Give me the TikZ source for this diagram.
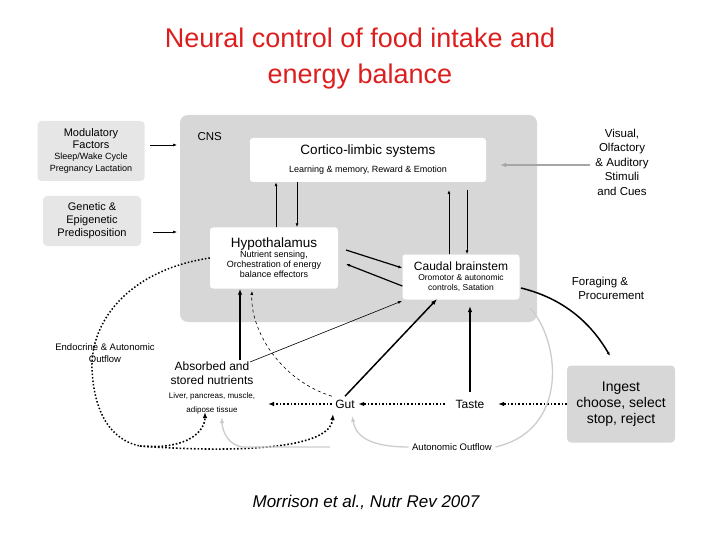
\documentclass[tikz,border=0pt]{standalone}
\usepackage{fontspec}
\setmainfont{Liberation Sans}
\usetikzlibrary{arrows.meta,positioning}
\definecolor{boxgray}{RGB}{230,230,230}
\definecolor{cnsgray}{RGB}{215,215,215}
\definecolor{titlered}{RGB}{220,30,30}
\newcommand{\fsz}[2]{\fontsize{#1}{#2}\selectfont}
\tikzset{
  panel/.style={fill=boxgray, rounded corners=4pt, align=center, inner sep=0pt},
  inbox/.style={fill=white, rounded corners=3pt, align=center, inner sep=0pt},
  thin arrow/.style={-{Latex[length=4pt]}, line width=0.6pt},
  thick arrow/.style={-{Latex[length=6pt]}, line width=1.5pt},
  dot arrow/.style={-{Latex[length=6pt]}, line width=1.6pt, dotted},
  gray arrow/.style={-{Latex[length=6pt]}, line width=1.3pt, gray!45},
}
\begin{document}
\begin{tikzpicture}[x=1pt,y=-1pt]
	\useasboundingbox (0,0) rectangle (720,540);
	
	% title
	\node[text=titlered, font=\fsz{27}{36}, align=center] (title) at (360,59) {Neural control of food intake and\\energy balance};
	
	% CNS background
	\fill[cnsgray, rounded corners=8pt] (180,115) rectangle (537,322);
	\node[anchor=west, font=\fsz{11.5}{12}] (cns) at (194,137) {CNS};
	
	% side factors
	\node[panel, minimum width=107pt, minimum height=60pt, font=\fsz{11}{11.5}] (mod) at (91,151) {Modulatory\\Factors\\{\fsz{9}{10}Sleep/Wake Cycle}\\{\fsz{9}{10}Pregnancy Lactation}};
	\node[panel, minimum width=98pt, minimum height=50pt, font=\fsz{11}{13}] (gen) at (92,221) {Genetic \&\\Epigenetic\\Predisposition};
	\coordinate (modend) at (177,145);
	\coordinate (genend) at (177,232);
	\draw[thin arrow] (150,145) -- (modend);
	\draw[thin arrow] (153,232) -- (genend);
	
	% boxes inside CNS
	\node[inbox, minimum width=236pt, minimum height=44pt, font=\fsz{13.5}{18}] (cort) at (368,160) {Cortico-limbic systems\\{\fsz{9}{10}Learning \& memory, Reward \& Emotion}};
	\node[inbox, minimum width=128pt, minimum height=61pt, font=\fsz{9}{10}] (hyp) at (274,258) {{\fsz{13.5}{16}Hypothalamus}\\Nutrient sensing,\\Orchestration of energy\\balance effectors};
	\node[inbox, minimum width=117pt, minimum height=45pt, font=\fsz{8.5}{10}] (caud) at (461,277) {{\fsz{12}{14}Caudal brainstem}\\Oromotor \& autonomic\\controls, Satation};
	
	% visual cues
	\node[align=center, font=\fsz{11.5}{14.5}] (vis) at (622,162) {Visual,\\Olfactory\\\& Auditory\\Stimuli\\and Cues};
	\draw[gray arrow, gray!70] (590,165) -- (500,165);
	
	% CNS arrows
	\draw[thin arrow, line width=1pt] (hyp.north -| 276,0) -- (cort.south -| 276,0);
	\draw[thin arrow, line width=1pt] (cort.south -| 297,0) -- (hyp.north -| 297,0);
	\draw[thin arrow, line width=1pt] (caud.north -| 449,0) -- (449,190);
	\draw[thin arrow, line width=1pt] (467,190) -- (caud.north -| 467,0);
	\draw[thin arrow, line width=1.2pt] (346,250) -- (caud.west |- 0,268);
	\draw[thin arrow, line width=1.2pt] (caud.west |- 0,286) -- (346,264);
	
	% bottom row
	\node[align=center, font=\fsz{12}{14}] (abs) at (212,388) {Absorbed and\\stored nutrients\\{\fsz{8}{9}Liver, pancreas, muscle,}\\{\fsz{8}{9}adipose tissue}};
	\node[font=\fsz{12}{14}] (gut) at (345,404) {Gut};
	\node[font=\fsz{12}{14}] (taste) at (470,404) {Taste};
	\node[panel, fill=boxgray!85!gray, minimum width=108pt, minimum height=77pt, font=\fsz{14}{16}] (ing) at (621,404) {Ingest\\choose, select\\stop, reject};
	\draw[dot arrow] (ing.west) -- (498,404);
	\draw[dot arrow] (445,404) -- (gut.east);
	\draw[dot arrow] (gut.west) -- (268,404);
	
	% up arrows
	\draw[thick arrow] (240,360) -- (hyp.south -| 240,0);
	\draw[thin arrow, dashed, line width=0.6pt] (gut.north west) .. controls (280,380) and (250,330) .. (252,291);
	\draw[thin arrow] (250,362) -- (402,301);
	\draw[thick arrow] (gut.north) -- (437,299);
	\draw[thick arrow] (470,392) -- (470,306);
	
	% foraging
	\node[align=left, font=\fsz{11.5}{14}] (forage) at (608,288) {Foraging \&\\\ \ Procurement};
	\draw[thin arrow, line width=1.5pt] (521,288) .. controls (570,300) and (595,330) .. (610,356);
	
	% endocrine outflow
	\node[align=center, font=\fsz{9.5}{12}] (endo) at (105,353) {Endocrine \& Autonomic\\Outflow};
	\coordinate (lowleft) at (140,446);
	\draw[dotted, line width=1.5pt] (hyp.west) .. controls (130,270) and (90,320) .. (92,370) .. controls (95,425) and (120,442) .. (lowleft);
	\draw[dot arrow] (lowleft) .. controls (190,450) and (205,430) .. (205,412);
	\draw[dot arrow] (lowleft) .. controls (220,452) and (330,452) .. (333,414);
	
	% autonomic outflow (gray)
	\node[font=\fsz{9.5}{11}] (auto) at (452,447) {Autonomic Outflow};
	\draw[gray!40, line width=1.3pt] (530,308) .. controls (560,340) and (570,430) .. (auto.east);
	\draw[gray arrow, gray!40] (auto.west) .. controls (360,447) and (355,430) .. (352,416);
	\draw[gray arrow, gray!40] (330,447) -- (245,447) .. controls (228,447) and (222,430) .. (222,417);
	
	% citation
	\node[font=\itshape\fsz{17}{20}] (cite) at (366,502) {Morrison et al., Nutr Rev 2007};
\end{tikzpicture}
\end{document}
